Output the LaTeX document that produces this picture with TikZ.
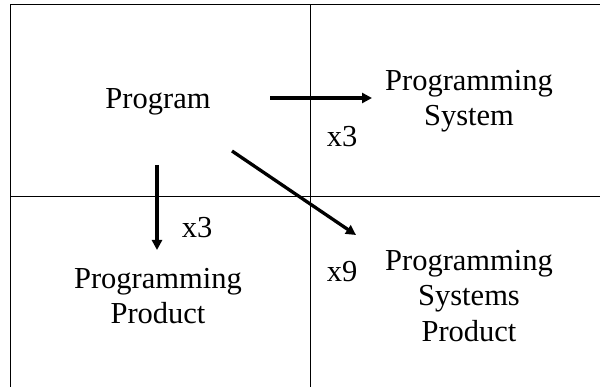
\documentclass[tikz,border=0pt]{standalone}
\usepackage{fontspec}
\setmainfont{Liberation Serif}
\usepackage{tikz}
\usetikzlibrary{arrows.meta,
                positioning}

\tikzset{
  label text/.style={font=\fontsize{30.5}{35.5}\selectfont, align=center, inner sep=0pt},
  grid line/.style={line width=1pt},
  thick arrow/.style={line width=3.3pt, -{Triangle[length=10pt, width=10pt]}}
}

\begin{document}
\begin{tikzpicture}[x=1pt, y=-1pt]
\useasboundingbox (0,0) rectangle (600,387);
% frame and quadrants
\draw[grid line] (10.5,387) -- (10.5,5) -- (600,5);
\draw[grid line] (10.5,197) -- (600,197);
\draw[grid line] (310,5) -- (310,387);
% texts
\node[label text] (prog) at (158,102) {Program};
\node[label text] (sys) at (469,101) {Programming\\System};
\node[label text] (prod) at (158,296) {Programming\\Product};
\node[label text] (sysprod) at (469,296) {Programming\\Systems\\Product};
\node[label text] (xsys) at (342,137) {x3};
\node[label text] (xprod) at (197,228) {x3};
\node[label text] (xsysprod) at (342,272) {x9};
% arrow ends
\coordinate (sysA) at (270,98);
\coordinate (sysB) at (372,98);
\coordinate (prodA) at (157,165);
\coordinate (prodB) at (157,250);
\coordinate (spA) at (232,151);
\coordinate (spB) at (356,235);
\draw[thick arrow] (sysA) -- (sysB);
\draw[thick arrow] (prodA) -- (prodB);
\draw[thick arrow] (spA) -- (spB);
\end{tikzpicture}
\end{document}
